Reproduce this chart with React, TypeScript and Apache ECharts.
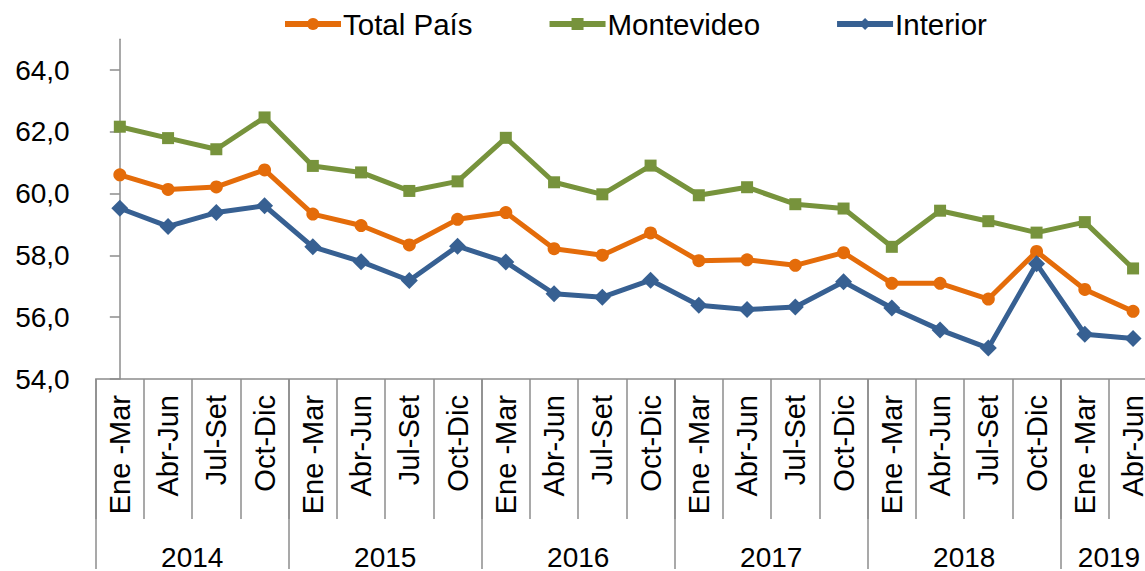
import React, { useEffect, useRef } from "react";
import * as echarts from "echarts";

const quarters = [
  "Ene -Mar", "Abr-Jun", "Jul-Set", "Oct-Dic",
  "Ene -Mar", "Abr-Jun", "Jul-Set", "Oct-Dic",
  "Ene -Mar", "Abr-Jun", "Jul-Set", "Oct-Dic",
  "Ene -Mar", "Abr-Jun", "Jul-Set", "Oct-Dic",
  "Ene -Mar", "Abr-Jun", "Jul-Set", "Oct-Dic",
  "Ene -Mar", "Abr-Jun",
];
const years = ["2014", "2015", "2016", "2017", "2018", "2019"];
const quartersPerYear = [4, 4, 4, 4, 4, 2];

const totalPais = [60.61, 60.14, 60.22, 60.77, 59.34, 58.97, 58.34, 59.17, 59.39, 58.22, 58.01, 58.73, 57.83, 57.86, 57.68, 58.09, 57.1, 57.1, 56.59, 58.13, 56.9, 56.19];
const montevideo = [62.17, 61.8, 61.44, 62.47, 60.9, 60.69, 60.09, 60.4, 61.81, 60.37, 59.98, 60.91, 59.95, 60.21, 59.66, 59.52, 58.28, 59.45, 59.11, 58.74, 59.08, 57.58];
const interior = [59.53, 58.94, 59.39, 59.61, 58.28, 57.8, 57.19, 58.3, 57.79, 56.76, 56.65, 57.2, 56.39, 56.25, 56.33, 57.15, 56.3, 55.59, 55.0, 57.73, 55.45, 55.31];
const yTicks = [54, 56, 58, 60, 62, 64];

const FONT = 'Arial, "Liberation Sans", sans-serif';
const AXIS_COLOR = "#8c8c8c";

export default function App() {
  const ref = useRef<HTMLDivElement>(null);
  useEffect(() => {
    if (!ref.current) return;
    const chart = echarts.init(ref.current, undefined, { renderer: "svg" });

    const yearCenters: number[] = [];
    const yearBounds: number[] = [];
    let start = 0;
    quartersPerYear.forEach((n) => {
      yearBounds.push(start - 0.5);
      yearCenters.push(start + n / 2 - 0.5);
      start += n;
    });

    const mk = (name: string, data: number[], color: string, symbol: string, size: number) => ({
      name,
      type: "line",
      data,
      xAxisIndex: 0,
      yAxisIndex: 0,
      symbol,
      symbolSize: size,
      itemStyle: { color },
      lineStyle: { color, width: 5 },
    });

    chart.setOption({
      animation: false,
      textStyle: { fontFamily: FONT },
      legend: {
        left: 282,
        top: 9,
        padding: 0,
        itemWidth: 56,
        itemHeight: 15,
        itemGap: 74,
        lineStyle: { width: 6 },
        textStyle: { fontSize: 29.5, color: "#000", fontFamily: FONT, padding: [0, 0, 0, -3] },
        data: [
          { name: "Total País", lineStyle: { width: 6 } },
          { name: "Montevideo", lineStyle: { width: 6 } },
          { name: "Interior", lineStyle: { width: 6 } },
        ],
      },
      grid: { left: 95.7, top: 39.3, width: 1061.5, height: 345.2, containLabel: false },
      xAxis: [
        {
          type: "category",
          data: quarters,
          boundaryGap: true,
          position: "bottom",
          offset: 0,
          axisLine: { show: true, lineStyle: { color: AXIS_COLOR, width: 1.5 } },
          axisTick: { show: true, interval: 0, length: 140, lineStyle: { color: AXIS_COLOR, width: 1.5 } },
          axisLabel: {
            interval: 0,
            rotate: 90,
            margin: 16,
            fontSize: 29,
            color: "#000",
            fontFamily: FONT,
          },
          splitLine: { show: false },
        },
        {
          type: "value",
          min: -0.5,
          max: quarters.length - 0.5,
          position: "bottom",
          offset: 0,
          axisLine: { show: false },
          axisTick: {
            show: true,
            customValues: yearBounds,
            length: 190,
            lineStyle: { color: AXIS_COLOR, width: 1.5 },
          },
          axisLabel: {
            customValues: yearCenters,
            formatter: (v: number) => {
              const i = yearCenters.findIndex((c) => Math.abs(c - v) < 1e-6);
              return i >= 0 ? years[i] : "";
            },
            margin: 164,
            fontSize: 28,
            color: "#000",
            fontFamily: FONT,
          },
          splitLine: { show: false },
        },
      ],
      yAxis: {
        type: "value",
        min: 54,
        max: 65,
        interval: 2,
        axisLine: { show: true, lineStyle: { color: AXIS_COLOR, width: 1.5 } },
        axisTick: { show: true, customValues: yTicks, length: 10, lineStyle: { color: AXIS_COLOR, width: 1.5 } },
        axisLabel: {
          customValues: yTicks,
          formatter: (v: number) => v.toFixed(1).replace(".", ","),
          margin: 26,
          fontSize: 28,
          color: "#000",
          fontFamily: FONT,
        },
        splitLine: { show: false },
      },
      series: [
        mk("Total País", totalPais, "#E46C0A", "circle", 13),
        mk("Montevideo", montevideo, "#77933C", "rect", 12),
        mk("Interior", interior, "#376092", "diamond", 17),
      ],
    });
    return () => chart.dispose();
  }, []);
  return (
    <div
      style={{ position: "fixed", left: 0, top: 0, width: 1145, height: 571, overflow: "hidden", background: "#fff" }}
    >
      <div ref={ref} style={{ width: 1180, height: 571 }} />
    </div>
  );
}
